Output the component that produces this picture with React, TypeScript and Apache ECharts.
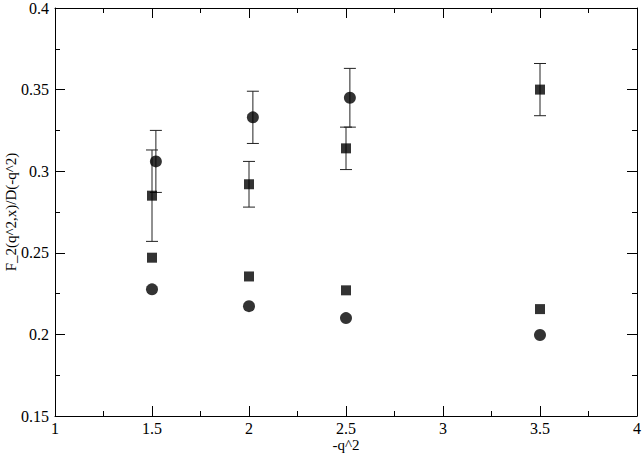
import React, { useEffect, useRef } from "react";
import * as echarts from "echarts";

// Data
const xSquares = [1.5, 2, 2.5, 3.5];
const squaresUpper = [0.285, 0.292, 0.314, 0.35];
const squaresUpperErr = [0.028, 0.014, 0.013, 0.016];
const squaresLower = [0.247, 0.2355, 0.227, 0.2155];

const xCirclesUpper = [1.52, 2.02, 2.52];
const circlesUpper = [0.306, 0.333, 0.345];
const circlesUpperErr = [0.019, 0.016, 0.018];

const xCirclesLower = [1.5, 2, 2.5, 3.5];
const circlesLower = [0.2276, 0.2173, 0.21, 0.1996];

const xTitle = "-q^2";
const yTitle = "F_2(q^2,x)/D(-q^2)";

const FONT = "Liberation Serif, Times New Roman, serif";

function errRender(params: any, api: any) {
  const x = api.value(0);
  const y = api.value(1);
  const e = api.value(2);
  const top = api.coord([x, y + e]);
  const bot = api.coord([x, y - e]);
  const hw = 6;
  const style = { stroke: "#222", lineWidth: 1 };
  return {
    type: "group",
    children: [
      { type: "line", shape: { x1: top[0], y1: top[1], x2: bot[0], y2: bot[1] }, style },
      { type: "line", shape: { x1: top[0] - hw, y1: top[1], x2: top[0] + hw, y2: top[1] }, style },
      { type: "line", shape: { x1: bot[0] - hw, y1: bot[1], x2: bot[0] + hw, y2: bot[1] }, style },
    ],
  };
}

export default function App() {
  const ref = useRef<HTMLDivElement>(null);
  useEffect(() => {
    if (!ref.current) return;
    const chart = echarts.init(ref.current, null, { renderer: "svg" });
    const axisLine = { show: true, onZero: false, lineStyle: { color: "#000", width: 1 } };
    const tickMain = { show: true, inside: true, length: 10, lineStyle: { color: "#000", width: 1 } };
    const tickMinor = { show: true, splitNumber: 2, length: 5, lineStyle: { color: "#000", width: 1 } };
    const labelStyle = { fontFamily: FONT, fontSize: 16, color: "#000" };
    chart.setOption({
      animation: false,
      backgroundColor: "#fff",
      textStyle: { fontFamily: FONT },
      grid: { left: 55, right: 6, top: 8, bottom: 39, containLabel: false, outerBoundsMode: "none" },
      xAxis: [
        {
          type: "value",
          min: 1,
          max: 4,
          interval: 0.5,
          position: "bottom",
          name: xTitle,
          nameLocation: "middle",
          nameGap: 21,
          nameMoveOverlap: false,
          nameTextStyle: { fontFamily: FONT, fontSize: 15, color: "#000" },
          axisLine,
          axisTick: tickMain,
          minorTick: tickMinor,
          splitLine: { show: false },
          axisLabel: { ...labelStyle, margin: 4 },
        },
        {
          type: "value",
          min: 1,
          max: 4,
          interval: 0.5,
          position: "top",
          axisLine,
          axisTick: tickMain,
          minorTick: tickMinor,
          splitLine: { show: false },
          axisLabel: { show: false },
        },
      ],
      yAxis: [
        {
          type: "value",
          min: 0.15,
          max: 0.4,
          interval: 0.05,
          position: "left",
          name: yTitle,
          nameLocation: "middle",
          nameGap: 37,
          nameMoveOverlap: false,
          nameTextStyle: { fontFamily: FONT, fontSize: 15, color: "#000" },
          axisLine,
          axisTick: tickMain,
          minorTick: tickMinor,
          splitLine: { show: false },
          axisLabel: { ...labelStyle, margin: 6 },
        },
        {
          type: "value",
          min: 0.15,
          max: 0.4,
          interval: 0.05,
          position: "right",
          axisLine,
          axisTick: tickMain,
          minorTick: tickMinor,
          splitLine: { show: false },
          axisLabel: { show: false },
        },
      ],
      series: [
        {
          type: "custom",
          renderItem: errRender,
          data: xSquares.map((x, i) => [x, squaresUpper[i], squaresUpperErr[i]]),
          z: 1,
          silent: true,
        },
        {
          type: "custom",
          renderItem: errRender,
          data: xCirclesUpper.map((x, i) => [x, circlesUpper[i], circlesUpperErr[i]]),
          z: 1,
          silent: true,
        },
        {
          type: "scatter",
          symbol: "rect",
          symbolSize: 10,
          itemStyle: { color: "#000" },
          data: xSquares.map((x, i) => [x, squaresUpper[i]]),
          z: 3,
        },
        {
          type: "scatter",
          symbol: "circle",
          symbolSize: 12,
          itemStyle: { color: "#000" },
          data: xCirclesUpper.map((x, i) => [x, circlesUpper[i]]),
          z: 3,
        },
        {
          type: "scatter",
          symbol: "rect",
          symbolSize: 10,
          itemStyle: { color: "#000" },
          data: xSquares.map((x, i) => [x, squaresLower[i]]),
          z: 3,
        },
        {
          type: "scatter",
          symbol: "circle",
          symbolSize: 12,
          itemStyle: { color: "#000" },
          data: xCirclesLower.map((x, i) => [x, circlesLower[i]]),
          z: 3,
        },
      ],
    });
    return () => chart.dispose();
  }, []);
  return (
    <div
      ref={ref}
      style={{ position: "fixed", left: 0, top: 0, width: 643, height: 455, background: "#fff" }}
    />
  );
}
